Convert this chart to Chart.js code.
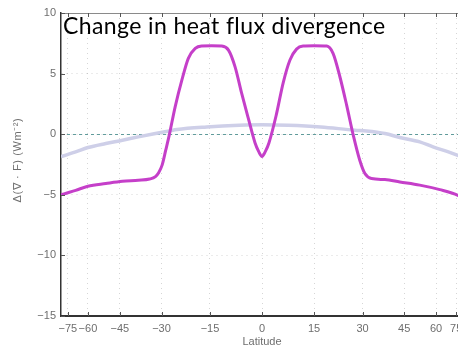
<!DOCTYPE html>
<html>
<head>
<meta charset="utf-8">
<script src="https://cdn.jsdelivr.net/npm/chart.js@4/dist/chart.umd.min.js"></script>
<style>
  html, body { margin: 0; padding: 0; background: #fff; overflow: hidden; }
  #wrap { position: relative; width: 470px; height: 350px; }
</style>
</head>
<body>
<div id="wrap"><canvas id="c" width="470" height="350"></canvas></div>
<script>
// Text
const titleText = 'Change in heat flux divergence';
const yTitle = 'Δ(∇ · F) (Wm⁻²)';
const xTitle = 'Latitude';

// Tick labels (latitude axis is area-weighted: positions are sin(latitude))
const latTicks = [-75, -60, -45, -30, -15, 0, 15, 30, 45, 60, 75];
const yTicks = [-15, -10, -5, 0, 5, 10];

// Change in heat flux divergence (magenta)
const fluxLat = [-90, -80, -68, -60, -51, -44, -38, -34, -32, -31, -29.8, -28.6, -27.5, -25.6, -23.5,
                 -21.5, -19.4, -17.5, -14.5, -11.6, -9.6, -7.7, -5.8, -3.9, -2, -1, 0, 1, 2, 4, 6.1,
                 8, 9.9, 11.8, 15, 18.8, 20.7, 22.8, 24.9, 27, 29.1, 30.8, 33, 37.7, 43.3, 51.7, 62.2,
                 77, 90];
const fluxChange = [-5.0, -4.92, -4.63, -4.3, -4.07, -3.88, -3.8, -3.7, -3.5, -3.2, -2.55, -1.3, -0.1, 2.26, 4.46,
                    6.26, 7.08, 7.28, 7.3, 7.27, 6.94, 5.56, 3.36, 1.3, -0.7, -1.4, -1.85, -1.4, -0.7, 1.5, 4.3,
                    6.12, 7.02, 7.27, 7.3, 7.27, 6.67, 4.74, 2.4, -0.08, -2.15, -3.25, -3.66, -3.74, -3.94, -4.2, -4.57,
                    -5.04, -5.3];

// Reference profile (pale lavender)
const bgLat = [-90, -68, -60, -51, -44, -38, -32, -27.5, -25, -16, -6.5, 0, 7.5, 17, 27.5, 31.3,
               37.7, 43.3, 51.7, 58.3, 68, 77, 90];
const bgValue = [-1.85, -1.46, -1.1, -0.77, -0.5, -0.22, 0.06, 0.27, 0.39, 0.6, 0.74, 0.78, 0.74, 0.6, 0.33, 0.27,
                 0.06, -0.27, -0.63, -1.05, -1.46, -1.74, -1.9];

const rad = d => d * Math.PI / 180;
const toPoints = (lats, vals) => lats.map((l, i) => ({ x: Math.sin(rad(l)), y: vals[i] }));
const fmt = v => (v < 0 ? '\u2212' + Math.abs(v) : String(v));

const tickFont = { family: '"Liberation Sans", Arial, sans-serif', size: 11 };
const tickColor = '#6e6e6e';

// Zero reference line, drawn beneath the curves
const zeroLine = {
  id: 'zeroLine',
  beforeDatasetsDraw(chart) {
    const { ctx, chartArea: a, scales: { y } } = chart;
    const py = Math.round(y.getPixelForValue(0)) + 0.5;
    ctx.save();
    ctx.strokeStyle = 'rgba(70,140,140,0.85)';
    ctx.lineWidth = 1;
    ctx.setLineDash([3, 3]);
    ctx.beginPath();
    ctx.moveTo(a.left, py);
    ctx.lineTo(a.right, py);
    ctx.stroke();
    ctx.restore();
  }
};

// Box top edge, inward tick marks, overlaid heading and rotated y title
const frame = {
  id: 'frame',
  afterDraw(chart) {
    const { ctx, chartArea: a, scales: { x, y } } = chart;
    ctx.save();
    ctx.strokeStyle = '#8a8a8a';
    ctx.lineWidth = 1;
    ctx.beginPath();
    ctx.moveTo(a.left, a.top + 0.5);
    ctx.lineTo(a.right, a.top + 0.5);
    ctx.stroke();

    ctx.strokeStyle = '#555';
    ctx.beginPath();
    x.ticks.forEach(t => {
      const px = Math.round(x.getPixelForValue(t.value)) + 0.5;
      ctx.moveTo(px, a.bottom);
      ctx.lineTo(px, a.bottom - 4);
      ctx.moveTo(px, a.top);
      ctx.lineTo(px, a.top + 4);
    });
    y.ticks.forEach(t => {
      const py = Math.round(y.getPixelForValue(t.value)) + 0.5;
      ctx.moveTo(a.left, py);
      ctx.lineTo(a.left + 4, py);
    });
    ctx.stroke();

    ctx.fillStyle = '#000';
    ctx.font = '23px Lato, "Liberation Sans", sans-serif';
    ctx.letterSpacing = '0.4px';
    ctx.textAlign = 'left';
    ctx.textBaseline = 'alphabetic';
    ctx.fillText(titleText, a.left + 2, a.top + 21);
    ctx.letterSpacing = '0px';

    ctx.translate(18, 160);
    ctx.rotate(-Math.PI / 2);
    ctx.fillStyle = tickColor;
    ctx.font = '11px "Liberation Sans", Arial, sans-serif';
    ctx.letterSpacing = '0.6px';
    ctx.textAlign = 'center';
    ctx.textBaseline = 'middle';
    ctx.fillText(yTitle, 0, 0);
    ctx.restore();
  }
};

new Chart(document.getElementById('c'), {
  type: 'line',
  data: {
    datasets: [
      {
        data: toPoints(fluxLat, fluxChange),
        borderColor: '#c53fc9',
        borderWidth: 3,
        pointRadius: 0,
        cubicInterpolationMode: 'monotone',
        order: 1
      },
      {
        data: toPoints(bgLat, bgValue),
        borderColor: '#cecfe8',
        borderWidth: 3.5,
        pointRadius: 0,
        cubicInterpolationMode: 'monotone',
        order: 2
      }
    ]
  },
  options: {
    responsive: false,
    animation: false,
    layout: { padding: { top: 13, right: 7, left: 0, bottom: 0 } },
    plugins: { legend: { display: false }, tooltip: { enabled: false }, title: { display: false } },
    scales: {
      x: {
        type: 'linear',
        min: -1,
        max: 1,
        afterBuildTicks: s => { s.ticks = latTicks.map(l => ({ value: Math.sin(rad(l)) })); },
        afterFit: s => { s.height = 34; },
        ticks: {
          autoSkip: false,
          maxRotation: 0,
          padding: 6,
          color: tickColor,
          font: tickFont,
          callback: (v, i) => fmt(latTicks[i])
        },
        grid: { color: 'rgba(0,0,0,0.16)', lineWidth: 1, drawTicks: false },
        border: { display: true, color: '#333', width: 2, dash: [1, 4] },
        title: {
          display: true,
          text: xTitle,
          color: tickColor,
          font: { family: '"Liberation Sans", Arial, sans-serif', size: 11 },
          padding: { top: 0, bottom: 1 }
        }
      },
      y: {
        type: 'linear',
        min: -15,
        max: 10,
        afterBuildTicks: s => { s.ticks = yTicks.map(v => ({ value: v })); },
        afterFit: s => { s.width = 61; },
        ticks: {
          padding: 5,
          color: tickColor,
          font: tickFont,
          callback: v => fmt(v)
        },
        grid: { color: 'rgba(0,0,0,0.16)', lineWidth: 1, drawTicks: false },
        border: { display: true, color: '#333', width: 1.5, dash: [1, 4] }
      }
    }
  },
  plugins: [zeroLine, frame]
});
</script>
</body>
</html>
